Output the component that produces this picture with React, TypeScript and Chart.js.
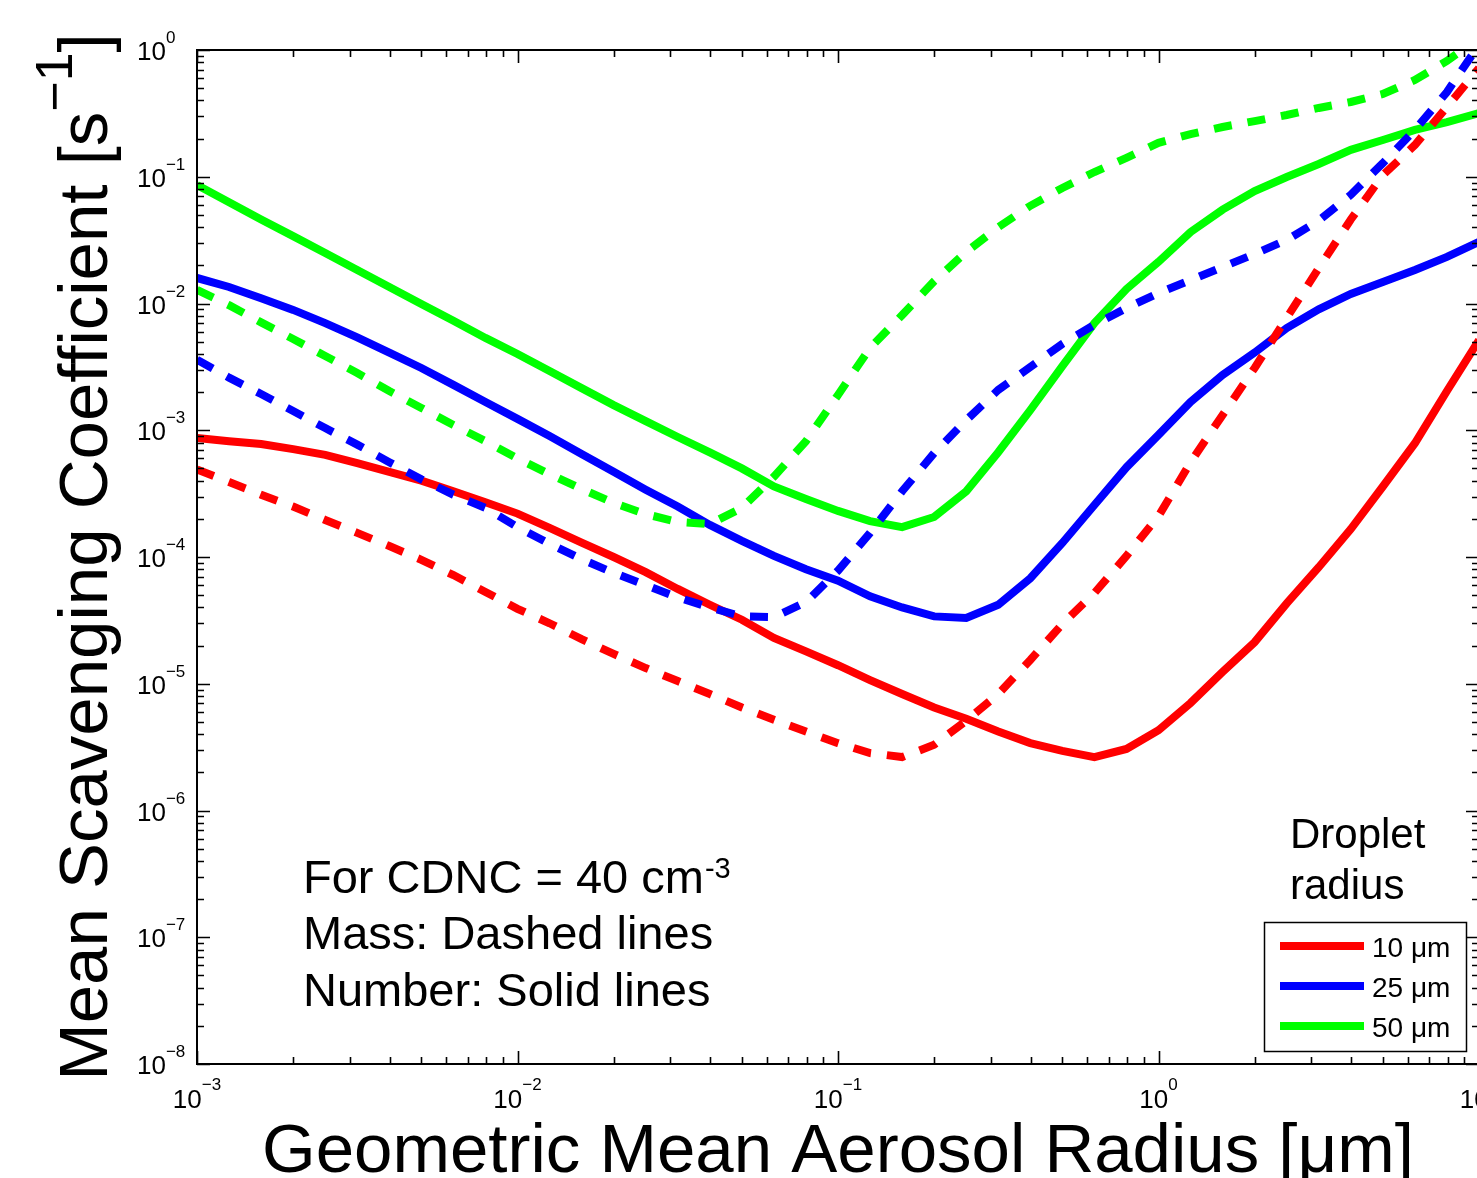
import React, { useEffect, useRef } from "react";
import { Chart, registerables } from "chart.js";

Chart.register(...registerables);

// ---------- data ----------
const radius = [
  0.001, 0.001259, 0.001585, 0.001995, 0.002512, 0.003162, 0.003981, 0.005012, 0.00631, 0.007943,
  0.01, 0.01259, 0.01585, 0.01995, 0.02512, 0.03162, 0.03981, 0.05012, 0.0631, 0.07943,
  0.1, 0.1259, 0.1585, 0.1995, 0.2512, 0.3162, 0.3981, 0.5012, 0.631, 0.7943,
  1, 1.259, 1.585, 1.995, 2.512, 3.162, 3.981, 5.012, 6.31, 7.943, 10,
];

const number10 = [
  8.7e-4, 8.2e-4, 7.8e-4, 7.1e-4, 6.4e-4, 5.5e-4, 4.7e-4, 4.0e-4, 3.3e-4, 2.7e-4,
  2.2e-4, 1.7e-4, 1.3e-4, 1.0e-4, 7.6e-5, 5.6e-5, 4.2e-5, 3.2e-5, 2.3e-5, 1.8e-5,
  1.4e-5, 1.07e-5, 8.3e-6, 6.5e-6, 5.3e-6, 4.2e-6, 3.4e-6, 2.95e-6, 2.64e-6, 3.06e-6,
  4.3e-6, 7.05e-6, 1.24e-5, 2.13e-5, 4.3e-5, 8.3e-5, 1.66e-4, 3.6e-4, 7.9e-4, 2.04e-3, 5.15e-3,
];
const mass10 = [
  4.9e-4, 3.9e-4, 3.1e-4, 2.5e-4, 1.96e-4, 1.55e-4, 1.22e-4, 9.5e-5, 7.2e-5, 5.3e-5,
  3.9e-5, 3.0e-5, 2.25e-5, 1.72e-5, 1.33e-5, 1.05e-5, 8.3e-6, 6.5e-6, 5.2e-6, 4.2e-6,
  3.4e-6, 2.84e-6, 2.64e-6, 3.3e-6, 5.1e-6, 8.3e-6, 1.54e-5, 2.96e-5, 5.2e-5, 1.02e-4,
  2.1e-4, 5.6e-4, 1.32e-3, 3.1e-3, 7.7e-3, 1.9e-2, 4.6e-2, 0.103, 0.178, 0.355, 0.72,
];
const number25 = [
  1.59e-2, 1.35e-2, 1.1e-2, 8.9e-3, 7.0e-3, 5.4e-3, 4.1e-3, 3.1e-3, 2.28e-3, 1.67e-3,
  1.23e-3, 9.0e-4, 6.5e-4, 4.7e-4, 3.4e-4, 2.5e-4, 1.79e-4, 1.34e-4, 1.02e-4, 8.0e-5,
  6.5e-5, 4.9e-5, 4.0e-5, 3.4e-5, 3.3e-5, 4.2e-5, 6.8e-5, 1.29e-4, 2.57e-4, 5.1e-4,
  9.2e-4, 1.67e-3, 2.73e-3, 4.1e-3, 6.4e-3, 9.0e-3, 1.19e-2, 1.48e-2, 1.84e-2, 2.33e-2, 3.06e-2,
];
const mass25 = [
  3.6e-3, 2.6e-3, 1.93e-3, 1.42e-3, 1.04e-3, 7.7e-4, 5.6e-4, 4.1e-4, 3.1e-4, 2.44e-4,
  1.72e-4, 1.27e-4, 9.6e-5, 7.5e-5, 6.0e-5, 4.8e-5, 4.0e-5, 3.4e-5, 3.36e-5, 4.4e-5,
  7.8e-5, 1.55e-4, 3.3e-4, 6.6e-4, 1.2e-3, 2.08e-3, 3.16e-3, 4.8e-3, 6.8e-3, 9.2e-3,
  1.21e-2, 1.53e-2, 1.94e-2, 2.46e-2, 3.17e-2, 4.5e-2, 7.2e-2, 0.128, 0.234, 0.466, 1.1,
];
const number50 = [
  8.6e-2, 6.3e-2, 4.6e-2, 3.4e-2, 2.5e-2, 1.84e-2, 1.35e-2, 9.9e-3, 7.3e-3, 5.35e-3,
  4.0e-3, 2.93e-3, 2.15e-3, 1.58e-3, 1.18e-3, 8.85e-4, 6.7e-4, 5.0e-4, 3.6e-4, 2.87e-4,
  2.31e-4, 1.92e-4, 1.72e-4, 2.07e-4, 3.3e-4, 6.7e-4, 1.44e-3, 3.2e-3, 7.0e-3, 1.3e-2,
  2.13e-2, 3.66e-2, 5.5e-2, 7.7e-2, 9.95e-2, 0.126, 0.163, 0.195, 0.234, 0.27, 0.318,
];
const mass50 = [
  1.28e-2, 9.7e-3, 7.1e-3, 5.25e-3, 3.85e-3, 2.83e-3, 2.04e-3, 1.5e-3, 1.1e-3, 8.2e-4,
  6.0e-4, 4.5e-4, 3.44e-4, 2.67e-4, 2.18e-4, 1.89e-4, 1.82e-4, 2.44e-4, 4.3e-4, 8.2e-4,
  1.9e-3, 4.46e-3, 8.1e-3, 1.5e-2, 2.55e-2, 4.0e-2, 5.9e-2, 8.15e-2, 0.109, 0.141,
  0.185, 0.217, 0.247, 0.275, 0.307, 0.349, 0.389, 0.45, 0.58, 0.82, 1.24,
];

const dropletLabels = ["10 \u03bcm", "25 \u03bcm", "50 \u03bcm"];
const xTickExponents = [-3, -2, -1, 0, 1];
const yTickExponents = [-8, -7, -6, -5, -4, -3, -2, -1, 0];
const xTitle = "Geometric Mean Aerosol Radius [\u03bcm]";
const yTitleMain = "Mean Scavenging Coefficient [s";
const yTitleSup = "\u22121";
const yTitleEnd = "]";
const noteLines = ["For CDNC = 40 cm", "Mass: Dashed lines", "Number: Solid lines"];
const noteSup = "-3";
const legendTitle = ["Droplet", "radius"];

const RED = "#ff0000";
const BLUE = "#0000ff";
const GREEN = "#00ff00";
const FONT = "'Liberation Sans', Arial, Helvetica, sans-serif";

const pts = (ys: number[]) => radius.map((x, i) => ({ x, y: ys[i] }));
const expStr = (e: number) => (e < 0 ? "\u2212" + Math.abs(e) : String(e));

const decorPlugin = {
  id: "decor",
  afterDatasetsDraw(chart: any) {
    const { ctx, chartArea: a, scales } = chart;
    const xs = scales.x;
    const ys = scales.y;
    ctx.save();
    // box
    ctx.strokeStyle = "#000";
    ctx.lineWidth = 2;
    ctx.strokeRect(a.left, a.top, a.right - a.left, a.bottom - a.top);
    // inward ticks
    ctx.lineWidth = 1.6;
    ctx.beginPath();
    for (const e of xTickExponents) {
      for (let m = 1; m <= 9; m++) {
        const v = m * Math.pow(10, e);
        if (v > xs.max * 1.0001) break;
        const px = Math.round(xs.getPixelForValue(v)) + 0.5;
        const len = m === 1 ? 13 : 7;
        ctx.moveTo(px, a.bottom);
        ctx.lineTo(px, a.bottom - len);
        ctx.moveTo(px, a.top);
        ctx.lineTo(px, a.top + len);
      }
    }
    for (const e of yTickExponents) {
      for (let m = 1; m <= 9; m++) {
        const v = m * Math.pow(10, e);
        if (v > ys.max * 1.0001) break;
        const py = Math.round(ys.getPixelForValue(v)) + 0.5;
        const len = m === 1 ? 13 : 7;
        ctx.moveTo(a.left, py);
        ctx.lineTo(a.left + len, py);
        ctx.moveTo(a.right, py);
        ctx.lineTo(a.right - len, py);
      }
    }
    ctx.stroke();

    // tick labels
    ctx.fillStyle = "#000";
    ctx.textBaseline = "alphabetic";
    ctx.textAlign = "left";
    const baseF = `26px ${FONT}`;
    const supF = `17px ${FONT}`;
    for (const e of xTickExponents) {
      const px = xs.getPixelForValue(Math.pow(10, e));
      ctx.font = baseF;
      const w1 = ctx.measureText("10").width;
      ctx.font = supF;
      const w2 = ctx.measureText(expStr(e)).width;
      const start = px - (w1 + w2) / 2;
      ctx.font = baseF;
      ctx.fillText("10", start, a.bottom + 44);
      ctx.font = supF;
      ctx.fillText(expStr(e), start + w1, a.bottom + 26);
    }
    for (const e of yTickExponents) {
      const py = ys.getPixelForValue(Math.pow(10, e));
      const start = a.left - 60;
      ctx.font = baseF;
      const w1 = ctx.measureText("10").width;
      ctx.fillText("10", start, py + 10);
      ctx.font = supF;
      ctx.fillText(expStr(e), start + w1, py - 7);
    }

    // x title
    ctx.font = `69px ${FONT}`;
    ctx.textAlign = "center";
    ctx.fillText(xTitle, (a.left + a.right) / 2, a.bottom + 108);

    // y title (rotated)
    ctx.save();
    ctx.translate(107, (a.top + a.bottom) / 2);
    ctx.rotate(-Math.PI / 2);
    ctx.textAlign = "left";
    const mainF = `69px ${FONT}`;
    const ysupF = `52px ${FONT}`;
    ctx.font = mainF;
    const wm = ctx.measureText(yTitleMain).width;
    const we = ctx.measureText(yTitleEnd).width;
    ctx.font = ysupF;
    const ws = ctx.measureText(yTitleSup).width;
    const total = wm + ws + we;
    const x0 = -total / 2;
    ctx.font = mainF;
    ctx.fillText(yTitleMain, x0, 0);
    ctx.font = ysupF;
    ctx.fillText(yTitleSup, x0 + wm, -35);
    ctx.font = mainF;
    ctx.fillText(yTitleEnd, x0 + wm + ws, 0);
    ctx.restore();

    // annotation
    ctx.textAlign = "left";
    const nx = 303;
    const nb = [893, 949, 1006];
    noteLines.forEach((t, i) => {
      ctx.font = `47px ${FONT}`;
      ctx.fillText(t, nx, nb[i]);
      if (i === 0) {
        const w = ctx.measureText(t).width;
        ctx.font = `29px ${FONT}`;
        ctx.fillText(noteSup, nx + w + 1, nb[i] - 15);
      }
    });

    // legend title
    ctx.font = `42px ${FONT}`;
    ctx.fillText(legendTitle[0], 1290, 848);
    ctx.fillText(legendTitle[1], 1290, 899);

    // legend box
    ctx.fillStyle = "#fff";
    ctx.fillRect(1264, 922, 202, 129);
    ctx.strokeStyle = "#000";
    ctx.lineWidth = 1.5;
    ctx.strokeRect(1264.5, 922.5, 202, 129);
    const solid = chart.data.datasets.filter((d: any) => !d.borderDash || d.borderDash.length === 0);
    const order = [RED, BLUE, GREEN];
    order.forEach((col, i) => {
      const ds = solid.find((d: any) => d.borderColor === col);
      const ly = 946 + i * 40;
      ctx.strokeStyle = col;
      ctx.lineWidth = 8;
      ctx.lineCap = "butt";
      ctx.beginPath();
      ctx.moveTo(1280, ly);
      ctx.lineTo(1364, ly);
      ctx.stroke();
      ctx.fillStyle = "#000";
      ctx.font = `28px ${FONT}`;
      ctx.fillText(ds ? ds.label : dropletLabels[i], 1372, ly + 11);
    });
    ctx.restore();
  },
};

export default function App() {
  const ref = useRef<HTMLCanvasElement | null>(null);

  useEffect(() => {
    if (!ref.current) return;
    const dash = [18, 16];
    const common = {
      borderWidth: 8,
      pointRadius: 0,
      pointHoverRadius: 0,
      tension: 0,
      fill: false,
      borderCapStyle: "butt" as const,
      borderJoinStyle: "miter" as const,
      clip: 0,
    };
    const chart = new Chart(ref.current, {
      type: "line",
      data: {
        datasets: [
          { ...common, label: "50 \u03bcm mass", data: pts(mass50), borderColor: GREEN, borderDash: dash },
          { ...common, label: "25 \u03bcm mass", data: pts(mass25), borderColor: BLUE, borderDash: dash },
          { ...common, label: "10 \u03bcm mass", data: pts(mass10), borderColor: RED, borderDash: dash },
          { ...common, label: dropletLabels[2], data: pts(number50), borderColor: GREEN },
          { ...common, label: dropletLabels[1], data: pts(number25), borderColor: BLUE },
          { ...common, label: dropletLabels[0], data: pts(number10), borderColor: RED },
        ],
      },
      options: {
        responsive: false,
        maintainAspectRatio: false,
        devicePixelRatio: 1,
        animation: false,
        events: [],
        layout: { padding: { top: 50, right: 21, left: 0, bottom: 0 } },
        plugins: { legend: { display: false }, tooltip: { enabled: false }, title: { display: false } },
        scales: {
          x: {
            type: "logarithmic",
            min: 1e-3,
            max: 10,
            ticks: { display: false },
            grid: { display: false },
            border: { display: false },
            afterFit: (s: any) => {
              s.height = 114;
            },
          },
          y: {
            type: "logarithmic",
            min: 1e-8,
            max: 1,
            ticks: { display: false },
            grid: { display: false },
            border: { display: false },
            afterFit: (s: any) => {
              s.width = 197;
            },
          },
        },
      },
      plugins: [decorPlugin],
    });
    return () => chart.destroy();
  }, []);

  return (
    <div
      style={{
        position: "absolute",
        left: 0,
        top: 0,
        width: 1477,
        height: 1178,
        overflow: "hidden",
        background: "#fff",
      }}
    >
      <canvas ref={ref} width={1500} height={1178} style={{ display: "block" }} />
    </div>
  );
}
